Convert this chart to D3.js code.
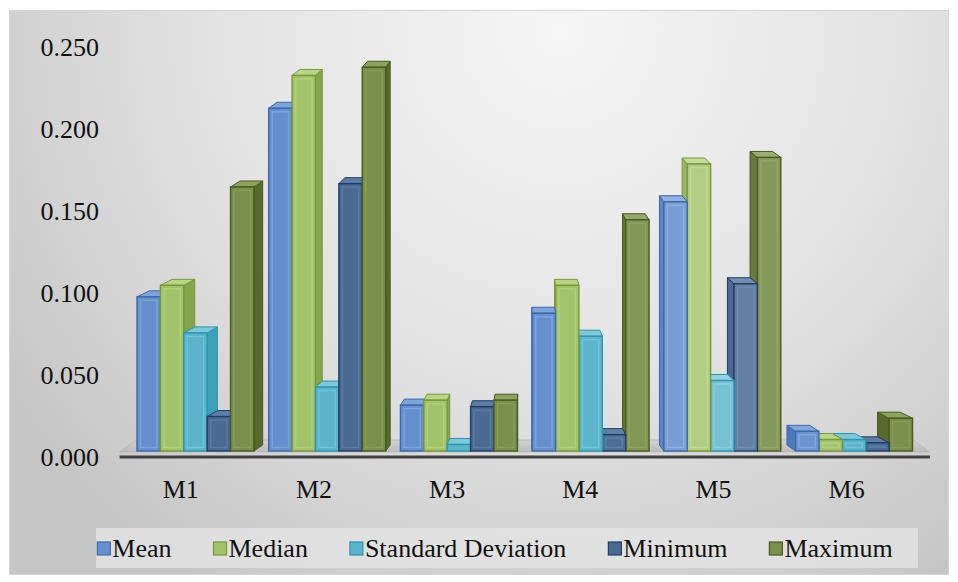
<!DOCTYPE html>
<html>
<head>
<meta charset="utf-8">
<script src="https://cdn.jsdelivr.net/npm/d3@7/dist/d3.min.js"></script>
<style>
  html, body { margin: 0; padding: 0; background: #fff; }
  svg { display: block; }
  text { font-family: "Liberation Serif", "Times New Roman", serif; }
</style>
</head>
<body>
<svg id="chart" width="958" height="582"></svg>
<script>
// Categories and series
const categories = ["M1", "M2", "M3", "M4", "M5", "M6"];
const seriesNames = ["Mean", "Median", "Standard Deviation", "Minimum", "Maximum"];

const meanValues    = [0.094, 0.209, 0.028, 0.084, 0.152, 0.012];
const medianValues  = [0.101, 0.229, 0.031, 0.101, 0.175, 0.007];
const stdDevValues  = [0.072, 0.039, 0.004, 0.070, 0.043, 0.007];
const minimumValues = [0.021, 0.163, 0.027, 0.010, 0.102, 0.005];
const maximumValues = [0.161, 0.234, 0.031, 0.141, 0.179, 0.020];

const yTickValues = [0, 0.05, 0.10, 0.15, 0.20, 0.25];

// Palette per series: front face, edge, side face, top face
const palette = {
  "Mean":               { front: "#6690cd", edge: "#3c6aae", side: "#4873b6", top: "#7fa4d9", inner: "#86aae0" },
  "Median":             { front: "#a3c36b", edge: "#789838", side: "#86a54c", top: "#b9d486", inner: "#b8d488" },
  "Standard Deviation": { front: "#5bb4cc", edge: "#2c95b0", side: "#3f9fb8", top: "#80c7da", inner: "#7cc7da" },
  "Minimum":            { front: "#4a6a94", edge: "#213d64", side: "#2f4f78", top: "#5d7ca6", inner: "#6080a8" },
  "Maximum":            { front: "#7a8f4c", edge: "#475b20", side: "#57692e", top: "#8fa360", inner: "#8ea25e" }
};

const seriesValues = {
  "Mean": meanValues,
  "Median": medianValues,
  "Standard Deviation": stdDevValues,
  "Minimum": minimumValues,
  "Maximum": maximumValues
};

const svg = d3.select("#chart");
const W = 958, H = 582;

// Background gradient of the chart area
const defs = svg.append("defs");
const bg = defs.append("radialGradient")
  .attr("id", "bgGrad")
  .attr("gradientUnits", "userSpaceOnUse")
  .attr("cx", 560).attr("cy", 30).attr("r", 660);
bg.append("stop").attr("offset", "0%").attr("stop-color", "#f6f6f6");
bg.append("stop").attr("offset", "55%").attr("stop-color", "#e2e2e2");
bg.append("stop").attr("offset", "100%").attr("stop-color", "#c6c6c6");

const floorGrad = defs.append("linearGradient")
  .attr("id", "floorGrad").attr("x1", 0).attr("y1", 0).attr("x2", 0).attr("y2", 1);
floorGrad.append("stop").attr("offset", "0%").attr("stop-color", "#d2d2d2");
floorGrad.append("stop").attr("offset", "100%").attr("stop-color", "#bcbcbc");

svg.append("rect")
  .attr("x", 9.5).attr("y", 10.5)
  .attr("width", W - 19).attr("height", H - 18)
  .attr("fill", "url(#bgGrad)")
  .attr("stroke", "#d6d6d6").attr("stroke-width", 1);

// Scales
const x0 = d3.scaleBand()
  .domain(categories)
  .range([129.6, 919.9])
  .paddingInner(0.112)
  .paddingOuter(0.056);

const x1 = d3.scaleBand()
  .domain(seriesNames)
  .range([0, x0.bandwidth()]);

const y = d3.scaleLinear().domain([0, 0.25]).range([451, 41]);

// Simple perspective: vanishing column and depth offsets
const vanishX = 527;
const barDepthK = 0.032;
const barDepthY = 6;
const floorDepthK = 0.042;
const floorDepthY = 12;
const labelOffset = 6;

const backPt = (px, py) => [px + barDepthK * (vanishX - px), py - barDepthY];

// Floor
const [rx0, rx1] = x0.range();
const fl = rx0 - 10, fr = rx1 + 10;
const fy = y(0) + 1;
const floorPts = [
  [fl, fy], [fr, fy],
  [fr + floorDepthK * (vanishX - fr), fy - floorDepthY],
  [fl + floorDepthK * (vanishX - fl), fy - floorDepthY]
];
svg.append("polygon")
  .attr("points", floorPts.map(p => p.join(",")).join(" "))
  .attr("fill", "url(#floorGrad)")
  .attr("stroke", "#b0b0b0").attr("stroke-width", 0.6);

// Axis baseline
svg.append("line")
  .attr("x1", fl).attr("x2", fr)
  .attr("y1", y(0) + labelOffset).attr("y2", y(0) + labelOffset)
  .attr("stroke", "#404040").attr("stroke-width", 3);

// Y axis labels
const yAxis = d3.axisLeft(y)
  .tickValues(yTickValues)
  .tickFormat(d3.format(".3f"))
  .tickSize(0)
  .tickPadding(0);
const yg = svg.append("g")
  .attr("transform", `translate(99,${labelOffset})`)
  .call(yAxis);
yg.select(".domain").remove();
yg.selectAll("text")
  .attr("font-family", "'Liberation Serif', serif")
  .attr("font-size", 26)
  .attr("fill", "#111");

// Category labels projected onto the front edge
svg.append("g").selectAll("text")
  .data(categories)
  .join("text")
  .attr("x", c => vanishX + (x0(c) + x0.bandwidth() / 2 - vanishX) * 1.011 - 11)
  .attr("y", 498)
  .attr("text-anchor", "middle")
  .attr("font-size", 26)
  .attr("fill", "#111")
  .text(c => c);

// Bars
const bars = [];
categories.forEach((c, ci) => {
  seriesNames.forEach(s => {
    const v = seriesValues[s][ci];
    const xl = x0(c) + x1(s);
    const xr = xl + x1.bandwidth();
    bars.push({ c, s, v, xl, xr, cx: (xl + xr) / 2 });
  });
});
bars.sort((a, b) => Math.abs(b.cx - vanishX) - Math.abs(a.cx - vanishX));

// Soft light spot that brightens bars on the right of the plot
const lit = (col, cx) => d3.interpolateRgb(col, "#ffffff")(0.17 * Math.exp(-Math.pow((cx - 715) / 75, 2)));

const barG = svg.append("g");
bars.forEach(b => {
  const p = palette[b.s];
  const yt = y(b.v), yb = y(0);
  const g = barG.append("g");
  const rightSide = b.cx < vanishX;
  const ex = rightSide ? b.xr : b.xl;
  const sidePts = [[ex, yt], backPt(ex, yt), backPt(ex, yb), [ex, yb]];
  const topPts = [[b.xl, yt], [b.xr, yt], backPt(b.xr, yt), backPt(b.xl, yt)];

  g.append("polygon")
    .attr("points", sidePts.map(q => q.join(",")).join(" "))
    .attr("fill", lit(p.side, b.cx))
    .attr("stroke", p.edge).attr("stroke-width", 1).attr("stroke-linejoin", "round");
  g.append("polygon")
    .attr("points", topPts.map(q => q.join(",")).join(" "))
    .attr("fill", lit(p.top, b.cx))
    .attr("stroke", p.edge).attr("stroke-width", 1).attr("stroke-linejoin", "round");
  g.append("rect")
    .attr("x", b.xl).attr("y", yt)
    .attr("width", b.xr - b.xl).attr("height", yb - yt)
    .attr("fill", lit(p.front, b.cx))
    .attr("stroke", p.edge).attr("stroke-width", 1.4);
  // bevel highlight inside the front face
  const inset = 3.5;
  if (yb - yt > 2 * inset + 1) {
    g.append("rect")
      .attr("x", b.xl + inset).attr("y", yt + inset)
      .attr("width", b.xr - b.xl - 2 * inset).attr("height", yb - yt - 2 * inset)
      .attr("fill", "none")
      .attr("stroke", lit(p.inner, b.cx)).attr("stroke-opacity", 0.75)
      .attr("stroke-width", 1.4);
  }
});

// Legend
svg.append("rect")
  .attr("x", 96).attr("y", 528).attr("width", 822).attr("height", 40)
  .attr("fill", "#e6e6e6").attr("fill-opacity", 0.75);

const legend = svg.append("g");
const items = legend.selectAll("g.item")
  .data(seriesNames)
  .join("g").attr("class", "item");
items.append("rect")
  .attr("width", 13).attr("height", 13)
  .attr("y", 542)
  .attr("fill", s => palette[s].front)
  .attr("stroke", s => palette[s].edge).attr("stroke-width", 1.2);
items.append("text")
  .attr("y", 557)
  .attr("font-size", 26)
  .attr("fill", "#111")
  .text(s => s);

// lay out the legend entries in a centered row
const gap = 42;
const widths = [];
items.each(function () {
  const t = d3.select(this).select("text").node().getComputedTextLength();
  widths.push(15 + t);
});
const total = d3.sum(widths) + gap * (widths.length - 1);
let cursor = 495 - total / 2;
items.each(function (d, i) {
  const g = d3.select(this);
  g.select("rect").attr("x", cursor);
  g.select("text").attr("x", cursor + 15);
  cursor += widths[i] + gap;
});
</script>
</body>
</html>
